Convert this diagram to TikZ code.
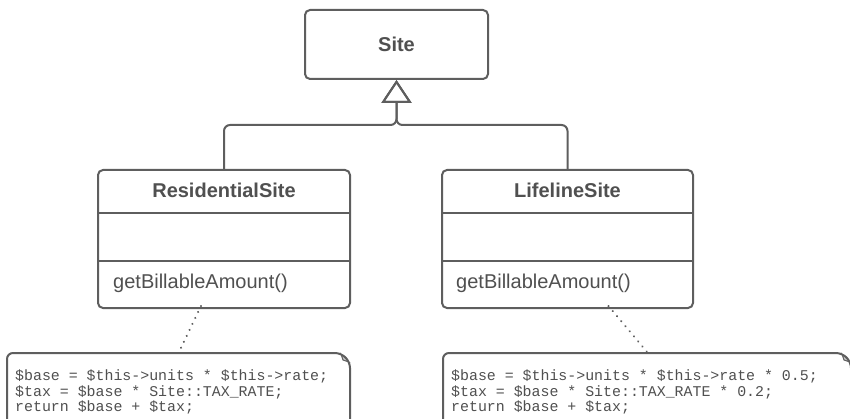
\documentclass[tikz,border=0pt]{standalone}
\usepackage{fontspec}
\setmainfont{Liberation Sans}
\setmonofont{Liberation Mono}
\usetikzlibrary{arrows.meta}
\definecolor{ln}{HTML}{5E5E5E}
\definecolor{tx}{HTML}{505050}
\definecolor{foldc}{HTML}{C8C8C8}
\begin{document}
\begin{tikzpicture}[x=1pt,y=-1pt,
  cls/.style={draw=ln,line width=2pt,rounded corners=5pt,fill=white,inner sep=0pt},
  title/.style={text=tx,font=\fontsize{20}{24}\selectfont\bfseries,inner sep=0pt},
  meth/.style={text=tx,font=\fontsize{20}{24}\selectfont,inner sep=0pt,anchor=west},
  gen/.style={draw=ln,line width=2pt,rounded corners=6pt,-{Triangle[open,length=23pt,width=30pt,line width=2pt]}},
  dots/.style={draw=ln,line width=2.2pt,line cap=round,dash pattern=on 0.1pt off 6.5pt},
  notebox/.style={draw=ln,line width=2pt,rounded corners=6pt,fill=white},
  code/.style={text=tx,font=\fontsize{14.9}{15.5}\selectfont\ttfamily,align=left,inner sep=0pt,anchor=north west}]
\useasboundingbox (0,0) rectangle (850,419);
\begin{scope}
\clip (0,0) rectangle (850,419);
% classes
\node[cls,minimum width=183pt,minimum height=69pt] (site) at (396.5,44.5) {};
\node[title] (sitet) at (site.center) {Site};
\node[cls,minimum width=252pt,minimum height=138pt] (res) at (224,239) {};
\node[cls,minimum width=251pt,minimum height=138pt] (lif) at (567.5,239) {};
\node[title] (rest) at (224,190) {ResidentialSite};
\node[title] (lift) at (567.5,190) {LifelineSite};
\draw[draw=ln,line width=2pt] (res.west |- 0,213) -- (res.east |- 0,213)
  (res.west |- 0,261) -- (res.east |- 0,261);
\draw[draw=ln,line width=2pt] (lif.west |- 0,213) -- (lif.east |- 0,213)
  (lif.west |- 0,261) -- (lif.east |- 0,261);
\node[meth] (resm) at (113,283) {getBillableAmount()};
\node[meth] (lifm) at (456,283) {getBillableAmount()};
% generalization
\draw[gen] (res.north) -- (res.north |- 0,125) -- (site.south |- 0,125) -- (site.south);
\draw[gen] (lif.north) -- (lif.north |- 0,125) -- (site.south |- 0,125) -- (site.south);
% notes
\draw[notebox] (7,440) -- (7,353) -- (341,353) -- (350,362) -- (350,440);
\fill[foldc,draw=ln,line width=1pt] (341,354) -- (349,362) -- (343,360) -- cycle;
\draw[notebox] (443,440) -- (443,353) -- (842,353) -- (851,362) -- (851,440);
\fill[foldc,draw=ln,line width=1pt] (842,354) -- (850,362) -- (844,360) -- cycle;
\coordinate (n1) at (179,352);
\coordinate (n2) at (647,352);
\node[code] (c1) at (15,370) {\$base = \$this->units * \$this->rate;\\\$tax = \$base * Site::TAX\_RATE;\\return \$base + \$tax;};
\node[code] (c2) at (451,370) {\$base = \$this->units * \$this->rate * 0.5;\\\$tax = \$base * Site::TAX\_RATE * 0.2;\\return \$base + \$tax;};
\draw[dots] ([xshift=-23pt,yshift=3pt]res.south) -- (n1);
\draw[dots] ([xshift=41pt,yshift=3pt]lif.south) -- (n2);
\end{scope}
\end{tikzpicture}
\end{document}
